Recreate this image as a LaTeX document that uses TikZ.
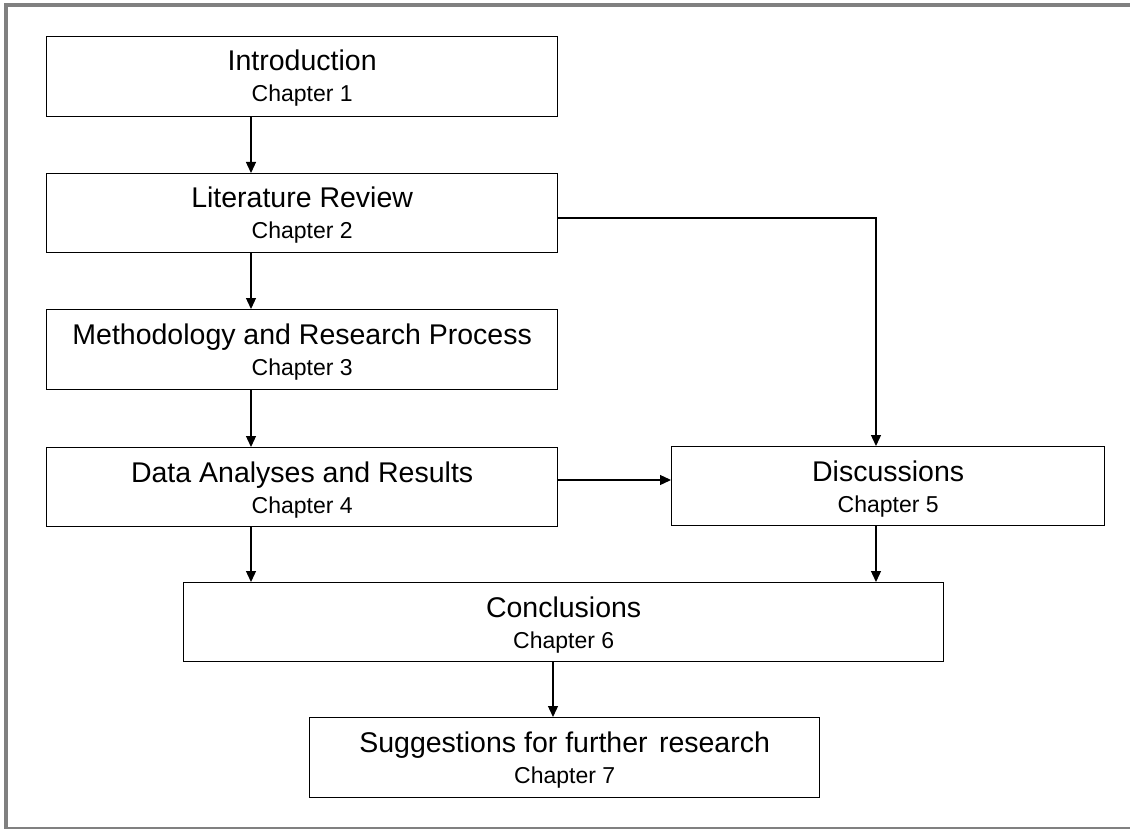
\documentclass[tikz,border=0pt]{standalone}
\usepackage{fontspec}
\setmainfont{Liberation Sans}
\usetikzlibrary{arrows.meta,calc}
\definecolor{framegray}{RGB}{128,128,128}
\begin{document}
\begin{tikzpicture}[x=1pt,y=-1pt,
  box/.style={draw=black, line width=1.3pt, fill=white, inner sep=0pt, anchor=north west},
  ttl/.style={anchor=base, font=\fontsize{28.5}{30}\selectfont, inner sep=0pt},
  chp/.style={anchor=base, font=\fontsize{23}{24}\selectfont, inner sep=0pt},
  conn/.style={line width=1.3pt, -{Triangle[length=11pt,width=10pt]}}]
\fill[white] (0,0) rectangle (1130,829);
\useasboundingbox (0,0) rectangle (1130,829);
% frame
\fill[framegray] (4,3) rectangle (1130,7.5);
\fill[framegray] (4,3) rectangle (8.3,829);
\draw[framegray, line width=1.5pt] (4,828) -- (1130,828);
% boxes
\node[box, minimum width=511pt, minimum height=80pt] (intro) at (46,36) {};
\node[box, minimum width=511pt, minimum height=79pt] (lit) at (46,173) {};
\node[box, minimum width=511pt, minimum height=80pt] (meth) at (46,309) {};
\node[box, minimum width=511pt, minimum height=79pt] (data) at (46,447) {};
\node[box, minimum width=433pt, minimum height=79pt] (disc) at (671,446) {};
\node[box, minimum width=760pt, minimum height=79pt] (concl) at (183,582) {};
\node[box, minimum width=510pt, minimum height=80pt] (sugg) at (309,717) {};
% texts
\node[ttl] (introT) at ($(intro.north)+(0,35)$) {Introduction};
\node[chp] (introC) at ($(intro.north)+(0,66)$) {Chapter 1};
\node[ttl] (litT) at ($(lit.north)+(0,35)$) {Literature Review};
\node[chp] (litC) at ($(lit.north)+(0,66)$) {Chapter 2};
\node[ttl] (methT) at ($(meth.north)+(0,35)$) {Methodology and Research Process};
\node[chp] (methC) at ($(meth.north)+(0,66)$) {Chapter 3};
\node[ttl] (dataT) at ($(data.north)+(0,35)$) {Data Analyses and Results};
\node[chp] (dataC) at ($(data.north)+(0,66)$) {Chapter 4};
\node[ttl] (discT) at ($(disc.north)+(0,35)$) {Discussions};
\node[chp] (discC) at ($(disc.north)+(0,66)$) {Chapter 5};
\node[ttl] (conclT) at ($(concl.north)+(0,35)$) {Conclusions};
\node[chp] (conclC) at ($(concl.north)+(0,66)$) {Chapter 6};
\node[ttl] (suggT) at ($(sugg.north)+(0,35)$) {Suggestions for further\hspace{0.4em}research};
\node[chp] (suggC) at ($(sugg.north)+(0,66)$) {Chapter 7};
% connectors
\draw[conn] ($(intro.south west)+(205,0)$) -- ($(lit.north west)+(205,0)$);
\draw[conn] ($(lit.south west)+(205,0)$) -- ($(meth.north west)+(205,0)$);
\draw[conn] ($(meth.south west)+(205,0)$) -- ($(data.north west)+(205,0)$);
\draw[conn] ($(lit.north east)+(0,45)$) -| ($(disc.north west)+(205,0)$);
\draw[conn] ($(data.north east)+(0,33)$) -- ($(disc.north west)+(0,34)$);
\draw[conn] ($(data.south west)+(205,0)$) -- ($(concl.north west)+(68,0)$);
\draw[conn] ($(disc.south west)+(205,0)$) -- ($(concl.north west)+(693,0)$);
\draw[conn] ($(concl.south west)+(370,0)$) -- ($(sugg.north west)+(244,0)$);
\end{tikzpicture}
\end{document}
